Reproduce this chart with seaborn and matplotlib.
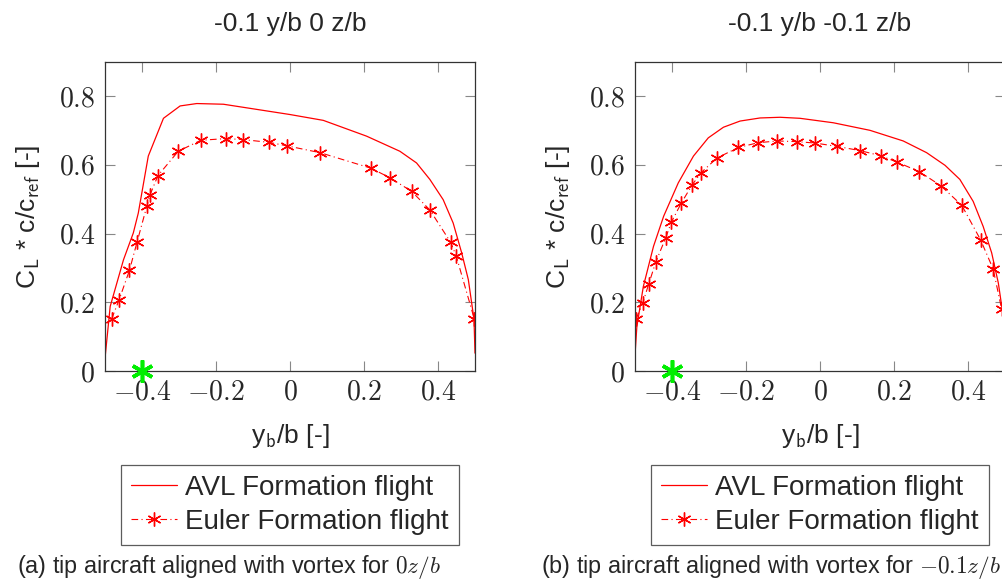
import matplotlib
matplotlib.use("Agg")
import matplotlib.pyplot as plt
import seaborn as sns
import pandas as pd

# ---------------- data ----------------
titles = ["-0.1 y/b 0 z/b", "-0.1 y/b -0.1 z/b"]
captions = ["(a) tip aircraft aligned with vortex for $0z/b$",
            "(b) tip aircraft aligned with vortex for $-0.1z/b$"]
series_labels = ["AVL Formation flight", "Euler Formation flight"]
x_ticks = [-0.4, -0.2, 0.0, 0.2, 0.4]
x_tick_labels = ["$-0.4$", "$-0.2$", "$0$", "$0.2$", "$0.4$"]
y_ticks = [0.0, 0.2, 0.4, 0.6, 0.8]
y_tick_labels = ["$0$", "$0.2$", "$0.4$", "$0.6$", "$0.8$"]
vortex_x = [-0.4]
vortex_y = [0.0]

# panel (a)
avl_a_x = [-0.5, -0.486, -0.45, -0.4235, -0.41, -0.383, -0.342, -0.297, -0.252, -0.18,
           0.0, 0.09, 0.207, 0.297, 0.342, 0.378, 0.414, 0.441, 0.464, 0.482,
           0.491, 0.4973, 0.5]
avl_a_y = [0.037, 0.188, 0.324, 0.402, 0.46, 0.626, 0.736, 0.772, 0.779, 0.777,
           0.747, 0.730, 0.684, 0.640, 0.606, 0.558, 0.499, 0.431, 0.344, 0.266,
           0.198, 0.151, 0.052]
eul_a_x = [-0.482, -0.462, -0.434, -0.4135, -0.387, -0.378, -0.357, -0.302, -0.241,
           -0.173, -0.126, -0.057, -0.009, 0.081, 0.218, 0.270, 0.329, 0.378,
           0.434, 0.449, 0.498]
eul_a_y = [0.152, 0.207, 0.293, 0.375, 0.480, 0.514, 0.569, 0.640, 0.672,
           0.677, 0.674, 0.666, 0.656, 0.636, 0.591, 0.563, 0.523, 0.469,
           0.375, 0.336, 0.152]

# panel (b)
avl_b_x = [-0.5, -0.495, -0.4775, -0.45, -0.4225, -0.383, -0.342, -0.302, -0.261,
           -0.216, -0.162, -0.108, -0.054, 0.036, 0.135, 0.225, 0.288, 0.338,
           0.378, 0.414, 0.441, 0.464, 0.482, 0.494, 0.498, 0.5]
avl_b_y = [0.047, 0.129, 0.246, 0.363, 0.451, 0.548, 0.626, 0.679, 0.710,
           0.728, 0.737, 0.739, 0.736, 0.723, 0.701, 0.670, 0.636, 0.599,
           0.558, 0.494, 0.421, 0.344, 0.256, 0.168, 0.100, 0.04]
eul_b_x = [-0.497, -0.479, -0.463, -0.444, -0.417, -0.402, -0.375, -0.345, -0.321,
           -0.279, -0.221, -0.167, -0.115, -0.063, -0.0135, 0.047, 0.108, 0.164,
           0.209, 0.268, 0.326, 0.383, 0.434, 0.468, 0.491]
eul_b_y = [0.152, 0.198, 0.253, 0.317, 0.388, 0.433, 0.489, 0.543, 0.578,
           0.620, 0.651, 0.665, 0.670, 0.668, 0.664, 0.654, 0.642, 0.627,
           0.608, 0.581, 0.540, 0.483, 0.382, 0.297, 0.180]

panels = [
    (avl_a_x, avl_a_y, eul_a_x, eul_a_y),
    (avl_b_x, avl_b_y, eul_b_x, eul_b_y),
]

# ---------------- style ----------------
sns.set_theme(style="white")
plt.rcParams["font.family"] = ["Liberation Sans", "DejaVu Sans"]
plt.rcParams["mathtext.fontset"] = "cm"

W, H = 1003, 585
fig = plt.figure(figsize=(W / 100, H / 100), dpi=100)

axes_left_px = [105, 635]
ax_w_px = 370
ax_top_px, ax_bot_px = 62, 371
caption_x_px = [229, 771]

star = (6, 2, 0)

for i, (ax_x, ax_y, eu_x, eu_y) in enumerate(panels):
    left = axes_left_px[i]
    ax = fig.add_axes([left / W, 1 - ax_bot_px / H, ax_w_px / W, (ax_bot_px - ax_top_px) / H])
    avl_df = pd.DataFrame({"x": ax_x, "y": ax_y})
    eul_df = pd.DataFrame({"x": eu_x, "y": eu_y})
    sns.lineplot(data=avl_df, x="x", y="y", ax=ax, color="red", lw=0.9,
                 estimator=None, sort=False, label=series_labels[0])
    sns.lineplot(data=eul_df, x="x", y="y", ax=ax, color="red", lw=0.8,
                 linestyle=(0, (6, 3, 1, 3)), marker=star, markersize=10,
                 markeredgecolor="red", markeredgewidth=1.0,
                 estimator=None, sort=False, label=series_labels[1])
    vdf = pd.DataFrame({"x": vortex_x, "y": vortex_y})
    sns.lineplot(data=vdf, x="x", y="y", ax=ax, color="#00ee00", lw=0,
                 marker=star, markersize=16, markeredgecolor="#00ee00",
                 markeredgewidth=2.6, estimator=None, legend=False,
                 clip_on=False, zorder=6)

    ax.set_xlim(-0.5, 0.5)
    ax.set_ylim(0, 0.9)
    ax.set_xticks(x_ticks)
    ax.set_xticklabels(x_tick_labels)
    ax.set_yticks(y_ticks)
    ax.set_yticklabels(y_tick_labels)
    ax.tick_params(axis="both", direction="in", length=7, width=0.8, color="#888888",
                   labelsize=20, top=True, right=True, bottom=True, left=True)
    ax.tick_params(axis="y", pad=7)
    ax.tick_params(axis="x", pad=6)
    for s in ax.spines.values():
        s.set_color("#333333")
        s.set_linewidth(0.9)
    ax.set_title(titles[i], fontsize=19, pad=22)
    ax.set_xlabel(r"y$_\mathsf{b}$/b [-]", fontsize=19, labelpad=12)
    ax.set_ylabel(r"C$_\mathsf{L}$ * c/c$_\mathsf{ref}$ [-]", fontsize=19, labelpad=12)

    leg = ax.legend(loc="upper center",
                    bbox_to_anchor=((left + ax_w_px / 2) / W, 1 - 465 / H),
                    bbox_transform=fig.transFigure,
                    fontsize=20, frameon=True, fancybox=False,
                    borderpad=0.35, labelspacing=0.3, handlelength=1.65,
                    handletextpad=0.3, borderaxespad=0)
    leg.get_frame().set_edgecolor("#333333")
    leg.get_frame().set_linewidth(0.9)

    fig.text(caption_x_px[i] / W, 1 - 567 / H, captions[i], fontsize=16.8,
             ha="center", va="center")

fig.savefig("out.png", dpi=100)
